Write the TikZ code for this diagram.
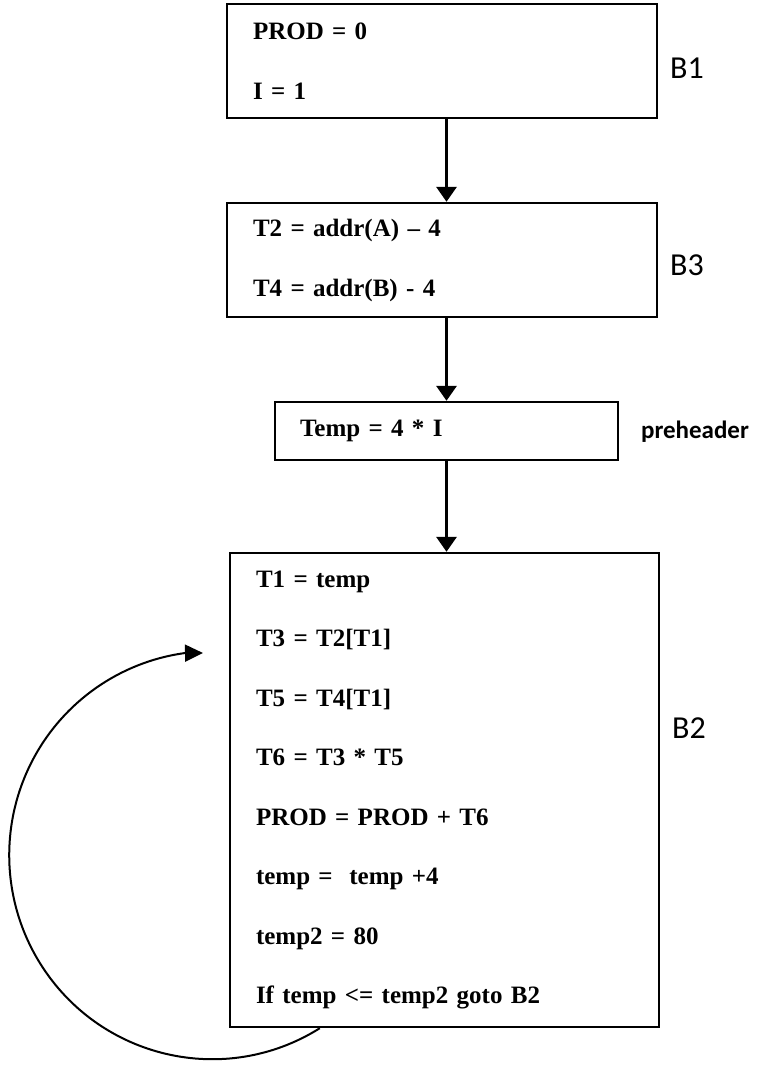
\documentclass[tikz,border=0pt]{standalone}
\usepackage{fontspec}
\setmainfont{Liberation Serif}
\newfontfamily\labelfont{Carlito}
\usetikzlibrary{arrows.meta}

\begin{document}
\begin{tikzpicture}[x=0.5pt,y=-0.5pt,
  block/.style={draw, line width=1.2pt, align=left, inner xsep=13pt, inner ysep=0pt,
    font=\fontsize{12.5}{30}\selectfont\bfseries},
  flow/.style={line width=1.6pt, -{Triangle[length=7.5pt,width=10pt]}},
  blabel/.style={font=\labelfont\fontsize{16}{18}\selectfont}]
\useasboundingbox (0,0) rectangle (767,1075);
% basic blocks
\node[block, text width=189pt, minimum height=57pt] (b1) at (442,61) {PROD = 0\\ I = 1};
\node[block, text width=189pt, minimum height=57pt] (b3) at (442,260) {T2 = addr(A) -- 4\\ T4 = addr(B) - 4};
\node[block, text width=146.5pt, inner xsep=12.5pt, minimum height=29pt] (pre) at (446.5,431) {Temp = 4 * I};
\node[block, text width=188.5pt, minimum height=237pt, font=\fontsize{12.5}{29.7}\selectfont\bfseries] (b2) at (444.5,790)
  {T1 = temp\\ T3 = T2[T1]\\ T5 = T4[T1]\\ T6 = T3 * T5\\ PROD = PROD + T6\\ temp = \ temp +4\\ temp2 = 80\\ If temp <= temp2 goto B2};
% block names
\node[blabel] (lb1) at (687,68) {B1};
\node[blabel] (lb3) at (687,265) {B3};
\node[blabel] (lb2) at (689,728) {B2};
\node[blabel, font=\labelfont\bfseries\fontsize{12.5}{15}\selectfont] (lpre) at (695,432) {preheader};
% edges
\draw[flow] (b1.south -| pre) -- (b3.north -| pre);
\draw[flow] (b3.south -| pre) -- (pre.north);
\draw[flow] (pre.south) -- (b2.north -| pre);
% back edge
\coordinate (loopin) at (203,653);
\draw[line width=1pt, -{Triangle[length=9pt,width=8.5pt]}] (b2.south west) ++(91,0)
  arc[start angle=-58, end angle=-262, x radius=101.5pt, y radius=102pt] -- (loopin);
\end{tikzpicture}
\end{document}
